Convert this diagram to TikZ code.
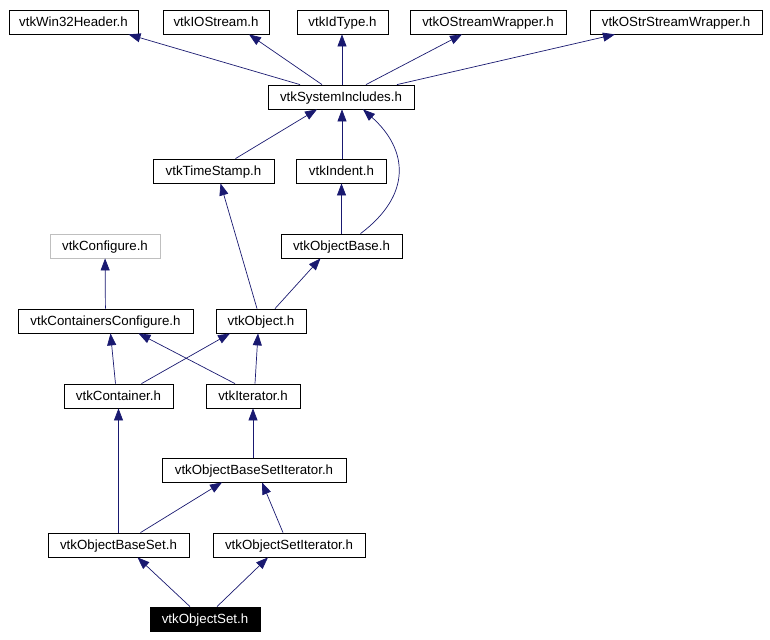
\documentclass[tikz,border=0pt]{standalone}
\usepackage{fontspec}
\setmainfont{Liberation Sans}
\usepackage{tikz}
\usetikzlibrary{arrows.meta}
\definecolor{edgeblue}{HTML}{191970}
\definecolor{greyline}{HTML}{BFBFBF}

\begin{document}
\begin{tikzpicture}[
    x=1pt, y=-1pt,
    box/.style={rectangle, draw=black, fill=white, line width=0.8pt,
                minimum width=#1, minimum height=24pt, inner sep=0pt,
                text height=9.6pt, text depth=0pt,
                font=\fontsize{13.3}{15}\selectfont},
    box/.default=100pt,
    greybox/.style={box=#1, draw=greyline},
    mainbox/.style={box=#1, fill=black, text=white},
    dep/.style={-{Triangle[length=12pt, width=9pt]}, line width=0.7pt, color=edgeblue}
]
\useasboundingbox (0,0) rectangle (770,639);

% Top row
\node[box=129pt] (win32) at (73.5,22) {vtkWin32Header.h};
\node[box=106pt] (iostream) at (216,22) {vtkIOStream.h};
\node[box=91pt] (idtype) at (342.5,22) {vtkIdType.h};
\node[box=156pt] (ostream) at (488,22) {vtkOStreamWrapper.h};
\node[box=172pt] (ostrstream) at (676,22) {vtkOStrStreamWrapper.h};

% Middle
\node[box=146pt] (sysinc) at (341,97) {vtkSystemIncludes.h};
\node[box=121pt] (timestamp) at (213.5,171) {vtkTimeStamp.h};
\node[box=90pt] (indent) at (341.5,171) {vtkIndent.h};
\node[greybox=110pt] (configure) at (105,246) {vtkConfigure.h};
\node[box=121pt] (objbase) at (341.5,246) {vtkObjectBase.h};
\node[box=175pt] (contconf) at (105.5,321) {vtkContainersConfigure.h};
\node[box=90pt] (object) at (261,321) {vtkObject.h};
\node[box=109pt] (container) at (118.5,396) {vtkContainer.h};
\node[box=94pt] (iterator) at (253,396) {vtkIterator.h};

% Bottom
\node[box=184pt] (basesetiter) at (254,470) {vtkObjectBaseSetIterator.h};
\node[box=141pt] (baseset) at (118.5,545) {vtkObjectBaseSet.h};
\node[box=152pt] (setiter) at (289,545) {vtkObjectSetIterator.h};
\node[mainbox=110pt] (objset) at (205,619) {vtkObjectSet.h};

% Includes of vtkSystemIncludes.h
\draw[dep] ([xshift=-41pt]sysinc.north) -- ([xshift=55pt]win32.south);
\draw[dep] ([xshift=-19pt]sysinc.north) -- ([xshift=33pt]iostream.south);
\draw[dep] ([xshift=1pt]sysinc.north) -- ([xshift=-0.5pt]idtype.south);
\draw[dep] ([xshift=25pt]sysinc.north) -- ([xshift=-26pt]ostream.south);
\draw[dep] ([xshift=56pt]sysinc.north) -- ([xshift=-61pt]ostrstream.south);

% Second level
\draw[dep] ([xshift=22pt]timestamp.north) -- ([xshift=-24pt]sysinc.south);
\draw[dep] ([xshift=0.5pt]indent.north) -- ([xshift=1pt]sysinc.south);
\draw[dep] ([xshift=19pt]objbase.north) .. controls +(52,-39) and +(45,40) .. ([xshift=22pt]sysinc.south);
\draw[dep] (objbase) -- (indent);
\draw[dep] ([xshift=-4pt]object.north) -- ([xshift=7pt]timestamp.south);
\draw[dep] ([xshift=14pt]object.north) -- ([xshift=-21pt]objbase.south);
\draw[dep] (contconf) -- (configure);

% Containers and iterators
\draw[dep] ([xshift=-3pt]container.north) -- ([xshift=5pt]contconf.south);
\draw[dep] ([xshift=23pt]container.north) -- ([xshift=-31pt]object.south);
\draw[dep] ([xshift=-18pt]iterator.north) -- ([xshift=33pt]contconf.south);
\draw[dep] ([xshift=2pt]iterator.north) -- ([xshift=-3pt]object.south);
\draw[dep] (baseset) -- (container);
\draw[dep] ([xshift=-1pt]basesetiter.north) -- (iterator.south);
\draw[dep] ([xshift=22pt]baseset.north) -- ([xshift=-32pt]basesetiter.south);
\draw[dep] ([xshift=-6pt]setiter.north) -- ([xshift=8pt]basesetiter.south);

% vtkObjectSet.h
\draw[dep] ([xshift=-15pt]objset.north) -- ([xshift=19pt]baseset.south);
\draw[dep] ([xshift=12pt]objset.north) -- ([xshift=-21pt]setiter.south);

\end{tikzpicture}
\end{document}
